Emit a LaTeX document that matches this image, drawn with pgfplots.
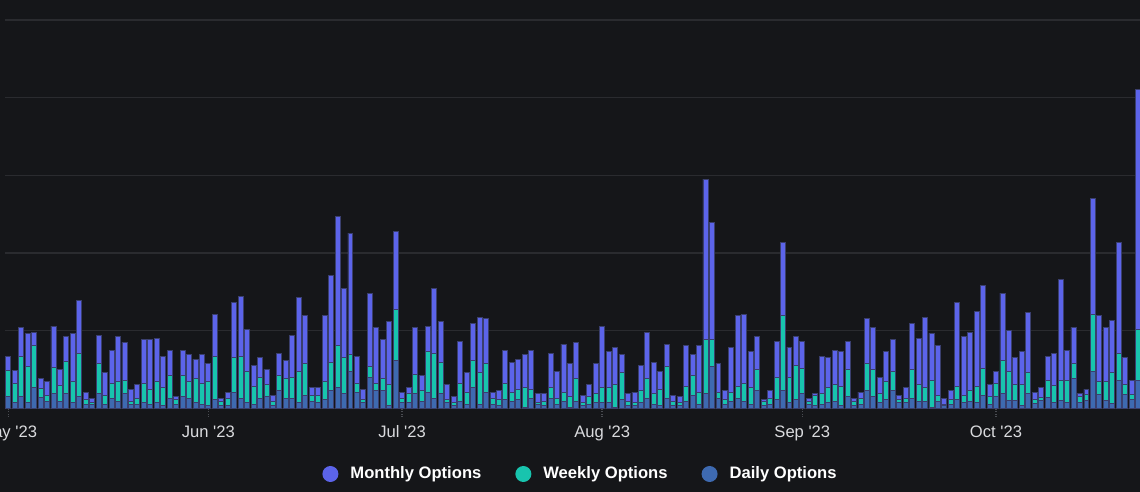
\documentclass[border=0pt]{standalone}
\usepackage{pgfplots}
\pgfplotsset{compat=1.18}
\usepackage{pgfplotstable}
\usepackage{fontspec}
\setmainfont{Liberation Sans}
\definecolor{bg}{HTML}{151619}
\definecolor{gridc}{HTML}{2A2B2F}
\definecolor{monthly}{HTML}{5C64EA}
\definecolor{weekly}{HTML}{18C4AE}
\definecolor{daily}{HTML}{3E6AB1}
\definecolor{barborder}{HTML}{3A3F6E}
\definecolor{tickc}{HTML}{4A4C52}
\definecolor{axisc}{HTML}{2E3035}
\definecolor{labelc}{HTML}{DADBDE}

\pgfplotstableread{
x D W M
0 36 77 44
1 18 58 37
2 36 121 86
3 18 108 99
4 64 125 40
5 32 27 31
6 22 18 41
7 45 77 125
8 22 46 49
9 45 95 76
10 18 63 144
11 36 130 158
12 13 14 22
13 13 5 13
14 45 90 85
15 13 27 68
16 31 45 99
17 22 59 135
18 45 40 113
19 13 9 36
20 13 18 41
21 18 58 131
22 13 45 149
23 18 63 130
24 9 54 94
25 31 68 76
26 13 14 9
27 36 63 76
28 31 50 81
29 18 72 58
30 13 63 86
31 9 72 54
32 27 130 126
33 9 13 9
34 9 22 18
35 49 104 166
36 31 126 180
37 18 94 126
38 13 54 63
39 31 63 59
40 36 36 45
41 9 13 18
42 54 45 67
43 31 59 54
44 31 63 126
45 18 94 221
46 40 95 144
47 22 18 23
48 18 22 23
49 27 54 198
50 54 85 261
51 63 126 388
52 45 108 207
53 112 50 364
54 49 27 81
55 18 9 31
56 94 32 220
57 54 22 167
58 54 36 117
59 9 63 189
60 144 153 234
61 18 13 18
62 18 27 18
63 45 58 140
64 22 32 45
65 49 122 76
66 31 135 194
67 45 94 122
68 18 9 45
69 9 9 18
70 22 54 126
71 13 36 59
72 63 81 112
73 13 95 166
74 49 86 135
75 13 18 18
76 9 18 27
77 27 49 99
78 22 27 90
79 27 31 90
80 4 59 99
81 31 27 117
82 13 5 27
83 9 13 23
84 31 32 103
85 13 18 81
86 22 27 144
87 4 32 99
88 22 68 108
89 9 9 22
90 13 23 36
91 18 27 90
92 18 45 184
93 18 45 108
94 4 68 112
95 27 81 54
96 9 13 23
97 9 9 31
98 18 36 76
99 31 59 139
100 13 32 94
101 9 49 54
102 31 95 67
103 9 13 18
104 9 9 18
105 22 45 122
106 40 59 63
107 13 36 140
108 45 162 481
109 126 81 351
110 31 18 86
111 13 14 27
112 22 27 135
113 31 36 212
114 22 54 207
115 13 50 108
116 54 63 99
117 9 13 5
118 13 18 23
119 27 67 108
120 54 225 220
121 18 76 90
122 27 103 86
123 45 76 81
124 13 9 9
125 9 31 5
126 13 32 112
127 18 45 90
128 22 50 103
129 9 58 104
130 36 81 85
131 9 13 9
132 13 18 18
133 54 81 135
134 36 81 126
135 18 27 49
136 27 54 90
137 54 58 95
138 18 9 13
139 18 13 32
140 31 86 139
141 22 50 139
142 22 41 211
143 4 81 140
144 22 18 149
145 9 4 18
146 13 14 27
147 27 40 252
148 18 22 176
149 22 32 175
150 18 49 225
151 40 81 248
152 13 23 36
153 36 40 36
154 46 98 202
155 23 89 122
156 23 49 81
157 9 63 99
158 46 62 180
159 14 13 22
160 23 9 31
161 32 53 72
162 18 50 98
163 23 62 302
164 18 67 90
165 90 45 108
166 18 18 9
167 23 18 17
168 112 171 347
169 41 40 198
170 23 58 162
171 14 94 157
172 85 81 333
173 41 31 81
174 27 14 44
175 85 153 720
}\data

\begin{document}
\begin{tikzpicture}
\useasboundingbox (0,0) rectangle (570pt,246pt);
\fill[bg] (0,0) rectangle (570pt,246pt);
\begin{axis}[
  at={(2.5pt,41.75pt)}, anchor=south west,
  scale only axis, width=570pt, height=194.25pt,
  xmin=-0.5, xmax=176.08, ymin=0, ymax=1165,
  ybar stacked, bar width=0.77,
  axis x line*=bottom, axis y line*=left,
  x axis line style={draw=axisc, line width=0.6pt, -},
  y axis line style={draw=none},
  ytick={0,233,466,699,932,1165}, yticklabels={},
  ytick style={draw=none},
  ymajorgrids, major grid style={draw=gridc, line width=0.6pt},
  xtick={0,31,61,92,123,153},
  xticklabels={May \textquotesingle23,Jun \textquotesingle23,Jul \textquotesingle23,Aug \textquotesingle23,Sep \textquotesingle23,Oct \textquotesingle23},
  xtick pos=bottom, tick align=outside, major tick length=4pt,
  xtick style={draw=tickc, densely dotted, line width=0.7pt},
  xticklabel style={text=labelc, font=\fontsize{8.3}{10}\selectfont, yshift=-1pt},
  legend style={at={(0.5057,-0.1686)}, anchor=center, draw=none, fill=none,
    text=white, font=\bfseries\fontsize{8.3}{10}\selectfont, legend columns=3,
    /tikz/every odd column/.append style={column sep=4pt},
    /tikz/every even column/.append style={column sep=15pt}},
  legend cell align=left,
  reverse legend,
  legend image code/.code={\fill[#1,draw=none] (4pt,0pt) circle (4pt);},
]
\addplot[fill=daily, draw=barborder, line width=0.4pt] table[x=x,y=D]{\data};
\addlegendentry{Daily Options}
\addplot[fill=weekly, draw=barborder, line width=0.4pt] table[x=x,y=W]{\data};
\addlegendentry{Weekly Options}
\addplot[fill=monthly, draw=barborder, line width=0.4pt] table[x=x,y=M]{\data};
\addlegendentry{Monthly Options}
\end{axis}
\end{tikzpicture}
\end{document}
